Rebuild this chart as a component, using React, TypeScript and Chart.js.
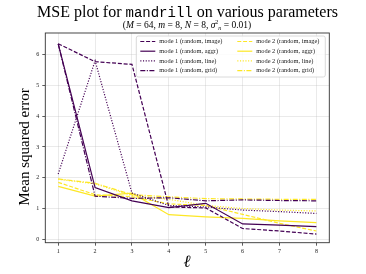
import React, { useEffect, useRef } from "react";
import { Chart, registerables } from "chart.js";

Chart.register(...registerables);

const ells = [1, 2, 3, 4, 5, 6, 7, 8];
const yTicks = [0, 1, 2, 3, 4, 5, 6];

const mode1Image = [6.35, 5.77, 5.68, 1.05, 1.02, 0.35, 0.27, 0.17];
const mode1Aggr = [6.35, 1.68, 1.25, 1.03, 1.17, 0.5, 0.46, 0.41];
const mode1Line = [2.12, 5.8, 1.5, 1.1, 1.05, 0.95, 0.9, 0.84];
const mode1Grid = [6.35, 1.4, 1.33, 1.35, 1.25, 1.28, 1.26, 1.25];
const mode2Image = [1.85, 1.45, 1.38, 1.15, 1.1, 0.81, 0.52, 0.27];
const mode2Aggr = [1.72, 1.4, 1.5, 0.8, 0.73, 0.68, 0.6, 0.54];
const mode2Line = [1.95, 1.8, 1.42, 1.3, 1.1, 1.0, 0.95, 0.92];
const mode2Grid = [1.96, 1.82, 1.45, 1.38, 1.32, 1.31, 1.3, 1.3];

const labels = [
  "mode 1 (random, image)",
  "mode 1 (random, aggr)",
  "mode 1 (random, line)",
  "mode 1 (random, grid)",
  "mode 2 (random, image)",
  "mode 2 (random, aggr)",
  "mode 2 (random, line)",
  "mode 2 (random, grid)",
];

const PURPLE = "#440154";
const YELLOW = "#fde725";
const DASHED = [4, 1.8];
const SOLID: number[] = [];
const DOTTED = [1.1, 1.6];
const DASHDOT = [5, 1.5, 1.1, 1.5];

const SERIF = '"Liberation Serif", "DejaVu Serif", serif';
const MONO = '"Liberation Mono", "DejaVu Sans Mono", monospace';

function ds(label: string, data: number[], color: string, dash: number[]) {
  return {
    label,
    data: ells.map((x, i) => ({ x, y: data[i] })),
    borderColor: color,
    backgroundColor: color,
    borderWidth: 1.2,
    borderDash: dash,
    pointRadius: 0,
    tension: 0,
    fill: false,
  };
}

type Seg = { t: string; italic?: boolean; size?: number; dy?: number; font?: string; bold?: boolean };

function drawSegs(ctx: CanvasRenderingContext2D, segs: Seg[], cx: number, y: number, base: number) {
  const fontOf = (s: Seg) =>
    `${s.italic ? "italic " : ""}${s.bold ? "bold " : ""}${s.size ?? base}px ${s.font ?? SERIF}`;
  let total = 0;
  for (const s of segs) {
    ctx.font = fontOf(s);
    total += ctx.measureText(s.t).width;
  }
  let x = cx - total / 2;
  ctx.textAlign = "left";
  ctx.textBaseline = "alphabetic";
  for (const s of segs) {
    ctx.font = fontOf(s);
    ctx.fillText(s.t, x, y + (s.dy ?? 0));
    x += ctx.measureText(s.t).width;
  }
}

const decorPlugin = {
  id: "decor",
  afterDraw(chart: any) {
    const ctx: CanvasRenderingContext2D = chart.ctx;
    const a = chart.chartArea;
    ctx.save();
    // frame
    ctx.strokeStyle = "#333";
    ctx.lineWidth = 0.9;
    ctx.setLineDash([]);
    ctx.strokeRect(a.left, a.top, a.right - a.left, a.bottom - a.top);

    // title
    ctx.fillStyle = "#000";
    drawSegs(
      ctx,
      [
        { t: "MSE plot for " },
        { t: "mandrill", font: MONO, size: 14 },
        { t: " on various parameters" },
      ],
      187.5,
      17,
      16
    );
    drawSegs(
      ctx,
      [
        { t: "(" },
        { t: "M", italic: true },
        { t: " = 64, " },
        { t: "m", italic: true },
        { t: " = 8, " },
        { t: "N", italic: true },
        { t: " = 8, " },
        { t: "σ", italic: true },
        { t: "2", size: 6, dy: -4 },
        { t: "n", italic: true, size: 6, dy: 2 },
        { t: " = 0.01)" },
      ],
      187,
      27.5,
      9.5
    );

    // axis labels
    ctx.save();
    ctx.translate(25, 147);
    ctx.rotate(-Math.PI / 2);
    ctx.font = `15px ${SERIF}`;
    ctx.textAlign = "center";
    ctx.textBaseline = "middle";
    ctx.fillText("Mean squared error", 0, 0);
    ctx.restore();
    ctx.font = `italic 17px ${SERIF}`;
    ctx.textAlign = "center";
    ctx.textBaseline = "middle";
    ctx.fillText("ℓ", 187, 263);

    // legend
    const bw = 189;
    const bh = 41;
    const bx = a.right - 4 - bw;
    const by = a.top + 3;
    ctx.fillStyle = "rgba(255,255,255,0.85)";
    ctx.strokeStyle = "#d0d0d0";
    ctx.lineWidth = 0.8;
    ctx.beginPath();
    (ctx as any).roundRect(bx, by, bw, bh, 2);
    ctx.fill();
    ctx.stroke();
    const dsets = chart.data.datasets;
    ctx.font = `6.4px ${SERIF}`;
    ctx.textAlign = "left";
    ctx.textBaseline = "middle";
    for (let i = 0; i < dsets.length; i++) {
      const col = Math.floor(i / 4);
      const row = i % 4;
      const lx = bx + 4 + col * 97;
      const ly = by + 5.5 + row * 9.7;
      ctx.strokeStyle = dsets[i].borderColor;
      ctx.lineWidth = 1.2;
      ctx.setLineDash(dsets[i].borderDash);
      ctx.beginPath();
      ctx.moveTo(lx, ly);
      ctx.lineTo(lx + 15, ly);
      ctx.stroke();
      ctx.setLineDash([]);
      ctx.fillStyle = "#222";
      ctx.fillText(dsets[i].label, lx + 19, ly);
    }
    ctx.restore();
  },
};

const gridOpts = {
  color: "rgba(190,190,190,0.55)",
  borderDash: [3, 2],
  lineWidth: 0.6,
  tickLength: 3,
  tickColor: "#333",
  tickBorderDash: [],
  tickWidth: 0.8,
};

export default function App() {
  const ref = useRef<HTMLCanvasElement>(null);
  useEffect(() => {
    if (!ref.current) return;
    const chart = new Chart(ref.current, {
      type: "line",
      data: {
        datasets: [
          ds(labels[0], mode1Image, PURPLE, DASHED),
          ds(labels[1], mode1Aggr, PURPLE, SOLID),
          ds(labels[2], mode1Line, PURPLE, DOTTED),
          ds(labels[3], mode1Grid, PURPLE, DASHDOT),
          ds(labels[4], mode2Image, YELLOW, DASHED),
          ds(labels[5], mode2Aggr, YELLOW, SOLID),
          ds(labels[6], mode2Line, YELLOW, DOTTED),
          ds(labels[7], mode2Grid, YELLOW, DASHDOT),
        ],
      },
      options: {
        animation: false,
        responsive: false,
        maintainAspectRatio: false,
        layout: { padding: { left: 0, top: 33, right: 36.7, bottom: 0 } },
        plugins: { legend: { display: false }, tooltip: { enabled: false }, title: { display: false } },
        scales: {
          x: {
            type: "linear",
            min: 0.65,
            max: 8.35,
            afterBuildTicks: (s: any) => {
              s.ticks = ells.map((v) => ({ value: v }));
            },
            afterFit: (s: any) => {
              s.height = 31.3;
            },
            grid: gridOpts as any,
            border: { display: false },
            ticks: {
              font: { family: SERIF, size: 6 },
              color: "#222",
              padding: 2,
              maxRotation: 0,
            },
          },
          y: {
            type: "linear",
            min: -0.11,
            max: 6.7,
            afterBuildTicks: (s: any) => {
              s.ticks = yTicks.map((v) => ({ value: v }));
            },
            afterFit: (s: any) => {
              s.width = 45.3;
            },
            grid: gridOpts as any,
            border: { display: false },
            ticks: {
              font: { family: SERIF, size: 6 },
              color: "#222",
              padding: 3,
            },
          },
        },
      },
      plugins: [decorPlugin],
    } as any);
    return () => chart.destroy();
  }, []);
  return (
    <div style={{ position: "absolute", left: 0, top: 0, width: 366, height: 274, background: "#fff" }}>
      <canvas ref={ref} width={366} height={274} style={{ width: 366, height: 274, display: "block" }} />
    </div>
  );
}
